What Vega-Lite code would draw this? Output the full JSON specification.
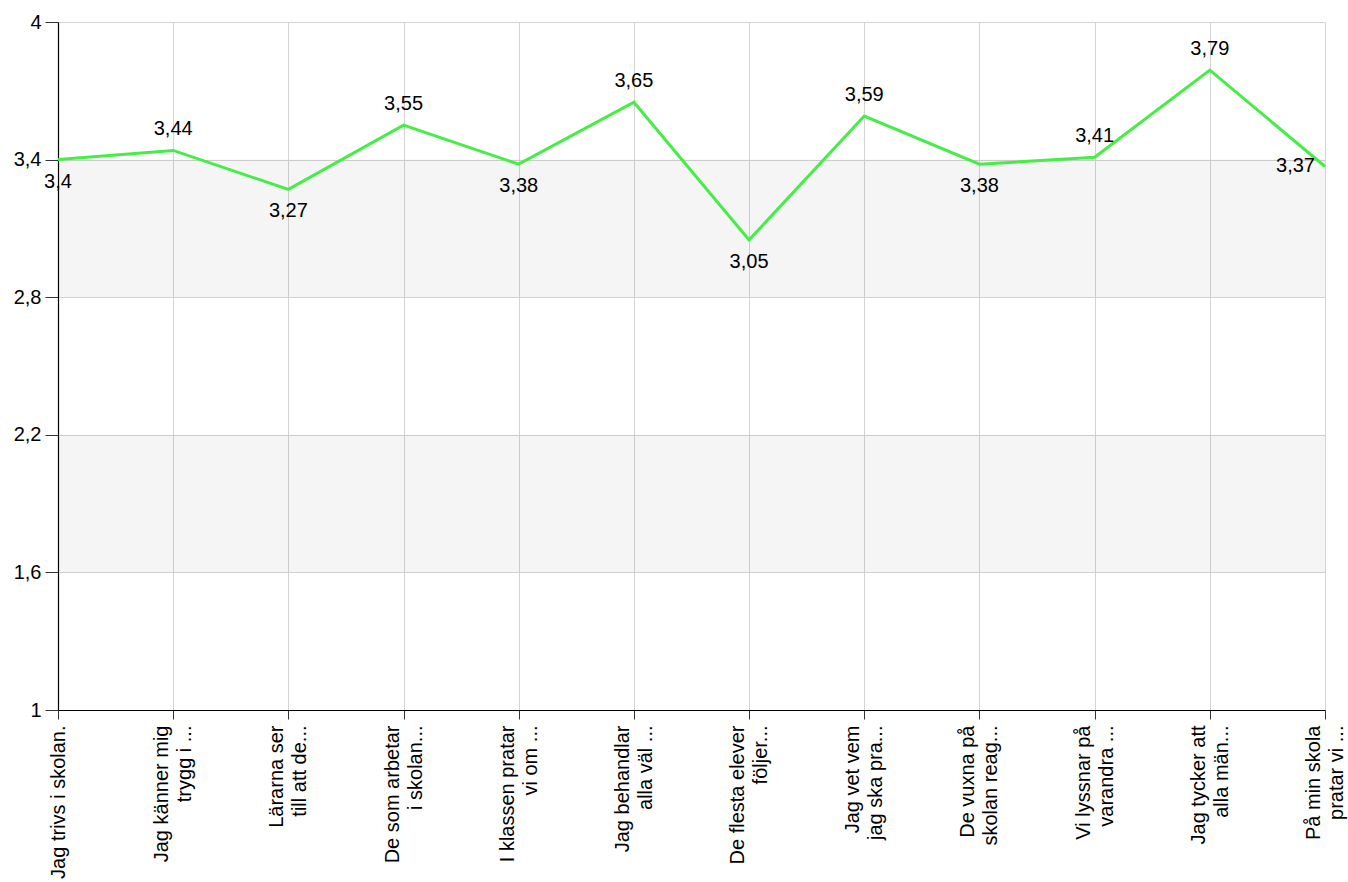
{
  "$schema": "https://vega.github.io/schema/vega-lite/v6.json",
  "width": 1267,
  "height": 688,
  "autosize": {"type": "none"},
  "padding": {"left": 58, "top": 22, "right": 23, "bottom": 172},
  "background": "white",
  "config": {
    "locale": {"number": {"decimal": ",", "thousands": "\u00a0", "grouping": [3], "currency": ["", " kr"]}},
    "view": {"stroke": null},
    "font": "Liberation Sans",
    "axis": {"labelFont": "Liberation Sans", "labelFontSize": 20, "labelColor": "#000000", "gridColor": "#d4d4d4", "gridWidth": 1, "domainColor": "#000000", "domainWidth": 1.2, "tickColor": "#333333", "title": null}
  },
  "data": {"values": [
    {"q": "Jag trivs i skolan.", "value": 3.4},
    {"q": "Jag känner  mig|trygg i ...", "value": 3.44},
    {"q": "Lärarna ser|till att de...", "value": 3.27},
    {"q": "De som arbetar|i skolan...", "value": 3.55},
    {"q": "I klassen pratar|vi om ...", "value": 3.38},
    {"q": "Jag behandlar|alla väl ...", "value": 3.65},
    {"q": "De flesta elever|följer...", "value": 3.05},
    {"q": "Jag vet vem|jag ska pra...", "value": 3.59},
    {"q": "De vuxna på|skolan reag...", "value": 3.38},
    {"q": "Vi lyssnar på|varandra ...", "value": 3.41},
    {"q": "Jag tycker att|alla män...", "value": 3.79},
    {"q": "På min skola|pratar vi ...", "value": 3.37}
  ]},
  "transform": [
    {"window": [{"op": "lag", "field": "value", "as": "prev"}, {"op": "row_number", "as": "idx"}]}
  ],
  "encoding": {
    "x": {"field": "q", "type": "nominal", "sort": null,
      "scale": {"type": "point", "padding": 0},
      "axis": {"labelAngle": -90, "labelAlign": "right", "labelBaseline": "middle", "labelExpr": "split(datum.label, '|')", "labelLineHeight": 23, "labelLimit": 0, "labelPadding": 6, "tickSize": 9, "grid": true, "labelOverlap": false,
        "labelOffset": {"condition": {"test": "indexof(datum.value, '|') >= 0", "value": -11.5}, "value": 0}}},
    "y": {"field": "value", "type": "quantitative",
      "scale": {"domain": [1, 4], "nice": false, "zero": false},
      "axis": {"values": [1, 1.6, 2.2, 2.8, 3.4, 4], "format": ".2~g", "tickSize": 13, "labelPadding": 4, "grid": true}}
  },
  "layer": [
    {
      "data": {"values": [{"lo": 2.8, "hi": 3.4}, {"lo": 1.6, "hi": 2.2}]},
      "transform": [],
      "mark": {"type": "rect", "color": "#000000", "opacity": 0.04},
      "encoding": {"x": null, "y": {"field": "lo", "type": "quantitative"}, "y2": {"field": "hi"}}
    },
    {
      "mark": {"type": "line", "color": "#44ee44", "strokeWidth": 3}
    },
    {
      "transform": [{"filter": "datum.prev != null && datum.value > datum.prev"}],
      "mark": {"type": "text", "fontSize": 20, "color": "#000000", "baseline": "middle", "dy": -21},
      "encoding": {"text": {"field": "value", "type": "quantitative", "format": ".3~g"}}
    },
    {
      "transform": [{"filter": "(datum.prev == null || datum.value <= datum.prev) && datum.idx < 12"}],
      "mark": {"type": "text", "fontSize": 20, "color": "#000000", "baseline": "middle", "dy": 22},
      "encoding": {"text": {"field": "value", "type": "quantitative", "format": ".3~g"}}
    },
    {
      "transform": [{"filter": "datum.idx == 12"}],
      "mark": {"type": "text", "fontSize": 20, "color": "#000000", "baseline": "middle", "align": "right", "dx": -10},
      "encoding": {"text": {"field": "value", "type": "quantitative", "format": ".3~g"}}
    }
  ]
}
